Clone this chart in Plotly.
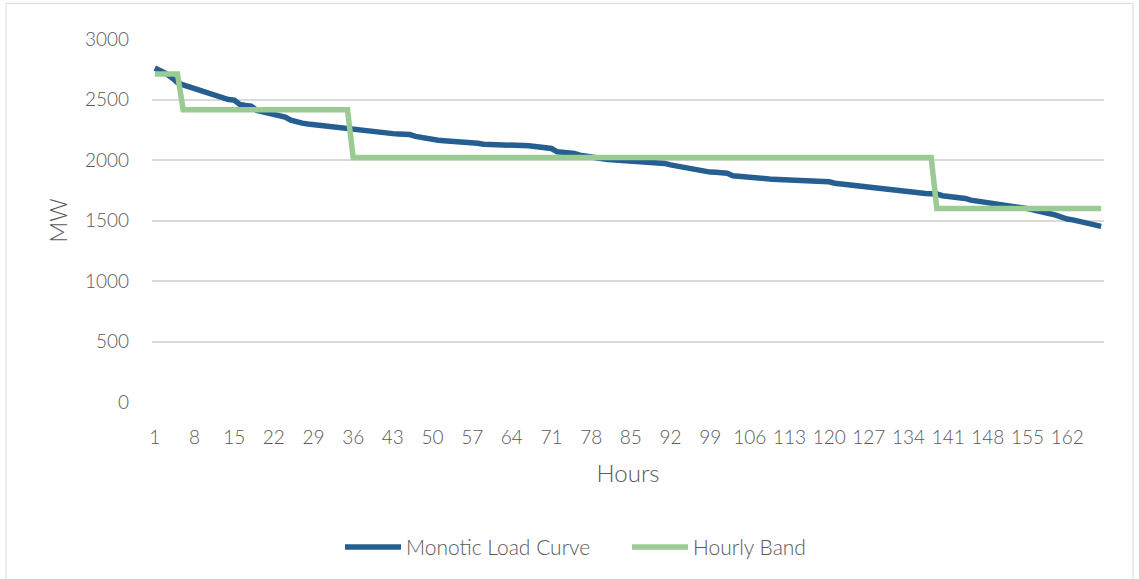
import plotly.graph_objects as go

hours = list(range(1, 169))

load_mw = [
    2760, 2740, 2715, 2680, 2640, 2620, 2605, 2585, 2565, 2550,
    2545, 2525, 2505, 2500, 2495, 2460, 2450, 2445, 2410, 2400,
    2395, 2385, 2375, 2355, 2330, 2315, 2305, 2298, 2292, 2288,
    2284, 2278, 2274, 2268, 2262, 2255, 2250, 2244, 2238, 2235,
    2230, 2222, 2218, 2215, 2212, 2210, 2195, 2185, 2178, 2170,
    2163, 2160, 2157, 2155, 2154, 2150, 2140, 2138, 2130, 2127,
    2125, 2124, 2122, 2121, 2120, 2119, 2118, 2115, 2112, 2105,
    2095, 2068, 2066, 2065, 2055, 2040, 2030, 2020, 2015, 2010,
    2005, 2002, 2000, 1998, 1995, 1993, 1990, 1985, 1980, 1977,
    1972, 1960, 1950, 1945, 1940, 1930, 1915, 1905, 1900, 1898,
    1896, 1890, 1870, 1864, 1860, 1857, 1855, 1850, 1845, 1840,
    1838, 1836, 1835, 1834, 1833, 1828, 1825, 1823, 1821, 1820,
    1808, 1802, 1798, 1795, 1790, 1786, 1783, 1775, 1765, 1762,
    1758, 1752, 1747, 1740, 1728, 1725, 1723, 1721, 1719, 1705,
    1700, 1697, 1692, 1682, 1668, 1660, 1650, 1642, 1636, 1630,
    1625, 1620, 1612, 1605, 1598, 1590, 1578, 1568, 1556, 1545,
    1525, 1512, 1505, 1495, 1485, 1470, 1462, 1452,
]

band_hours = [5, 30, 103, 30]
band_levels = [2710, 2415, 2020, 1600]
hourly_band = []
for n, lvl in zip(band_hours, band_levels):
    hourly_band += [lvl] * n

x_ticks = list(range(1, 169, 7))
y_ticks = [0, 500, 1000, 1500, 2000, 2500, 3000]

FONT = "Lato"
GREY = "#595959"

fig = go.Figure()
fig.add_trace(go.Scatter(
    x=hours, y=load_mw, mode="lines", name="Monotic Load Curve",
    line=dict(color="#255E91", width=5.5),
))
fig.add_trace(go.Scatter(
    x=hours, y=hourly_band, mode="lines", name="Hourly Band",
    line=dict(color="#99CB93", width=5.5),
))

fig.update_layout(
    width=1139, height=579,
    margin=dict(l=152, r=35, t=39, b=176),
    paper_bgcolor="white", plot_bgcolor="white",
    font=dict(family=FONT, color=GREY, size=19, weight=300),
    showlegend=True,
    legend=dict(orientation="h", x=(340 - 152) / 952, xanchor="left",
                y=(402.7 - 547) / 364, yanchor="middle",
                font=dict(size=21, color=GREY, weight=300), itemwidth=56,
                entrywidth=216, tracegroupgap=0),
    shapes=[dict(type="rect", xref="paper", yref="paper",
                 x0=(6 - 152) / 952, x1=(1133 - 152) / 952,
                 y0=(402.7 - 590) / 364, y1=(402.7 - 3) / 364,
                 line=dict(color="#D9D9D9", width=1), fillcolor="rgba(0,0,0,0)",
                 layer="below")],
)
fig.update_xaxes(
    range=[0.5, 168.5], tickmode="array", tickvals=x_ticks,
    ticktext=[str(v) for v in x_ticks],
    showgrid=False, zeroline=False, showline=False, ticks="",
    tickfont=dict(size=19, color=GREY, weight=300), ticklabelstandoff=22,
    title=dict(text="Hours", font=dict(size=24, color=GREY, weight=300), standoff=18),
)
fig.update_yaxes(
    range=[0, 3000], tickmode="array", tickvals=y_ticks,
    showgrid=True, gridcolor="#D9D9D9", gridwidth=1.5,
    zeroline=False, showline=False, ticks="",
    tickfont=dict(size=19, color=GREY, weight=300), ticklabelstandoff=22,
    title=dict(text="MW", font=dict(size=23, color=GREY, weight=300), standoff=10),
)

fig.write_html("out.html")
